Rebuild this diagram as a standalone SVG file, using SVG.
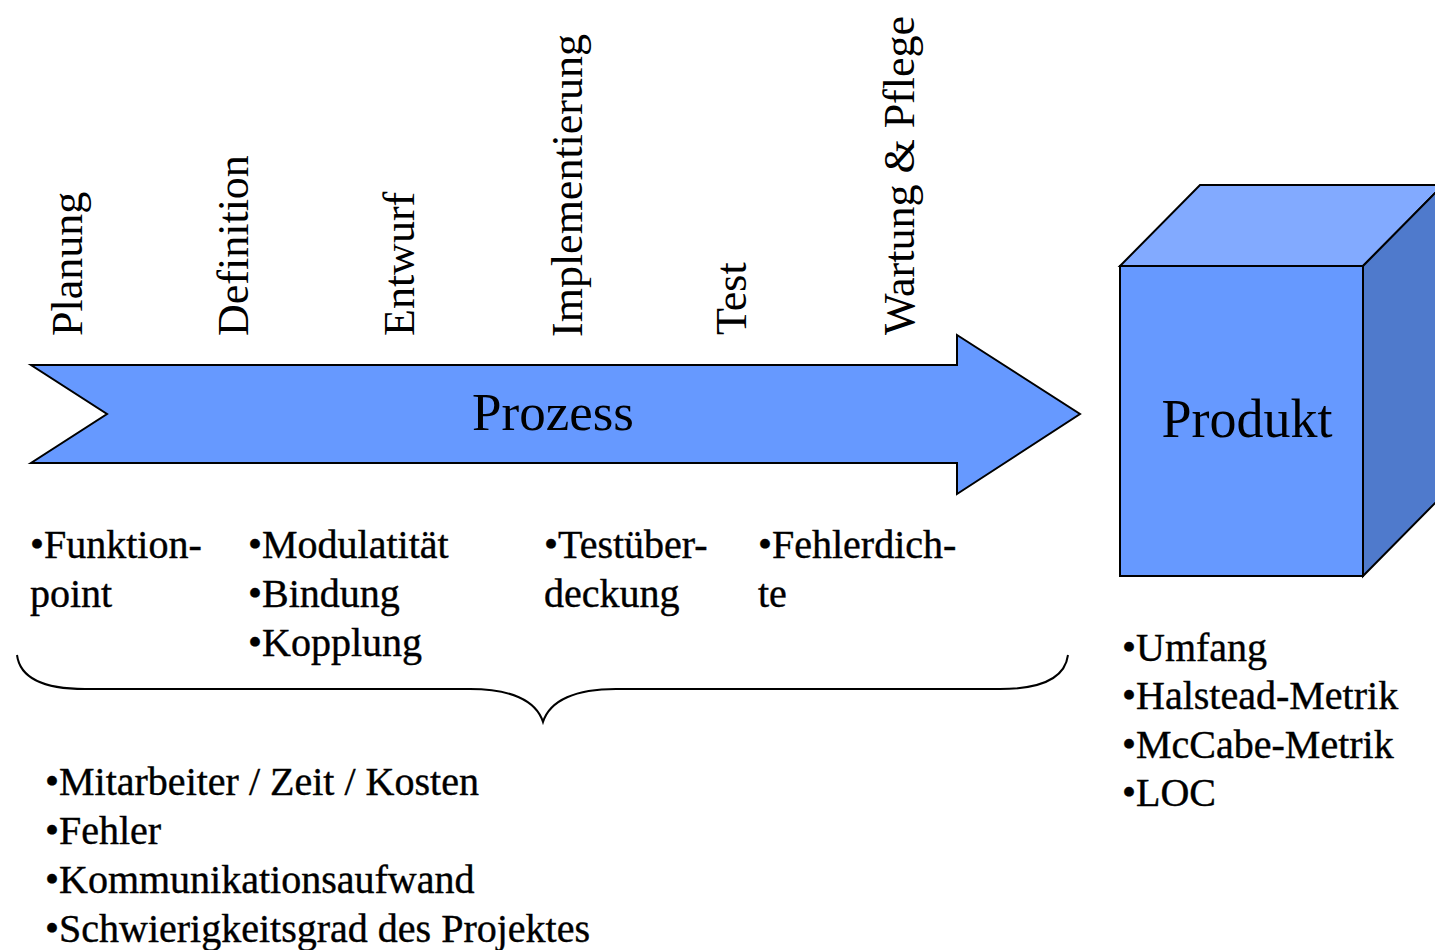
<svg xmlns="http://www.w3.org/2000/svg" width="1435" height="950" viewBox="0 0 1435 950">
<style>
text{font-family:"Liberation Serif","Times New Roman",serif;fill:#000}
.ph{font-size:44px}
.li{font-size:40px;stroke:#000;stroke-width:0.4}
.big{font-size:53px;text-anchor:middle}
.sh{stroke:#000;stroke-width:2;stroke-linejoin:miter}
</style>
<rect width="1435" height="950" fill="#fff"/>
<g id="phases">
<text class="ph" transform="translate(82,336) rotate(-90)">Planung</text>
<text class="ph" transform="translate(248,336) rotate(-90)">Definition</text>
<text class="ph" transform="translate(414,336) rotate(-90)">Entwurf</text>
<text class="ph" transform="translate(582,337) rotate(-90)">Implementierung</text>
<text class="ph" transform="translate(746,335) rotate(-90)">Test</text>
<text class="ph" transform="translate(914,335) rotate(-90)">Wartung &amp; Pflege</text>
</g>
<g id="prozess">
<polygon class="sh" fill="#6699FF" points="31,365 957,365 957,335 1080,414 957,494 957,463 31,463 107,414"/>
<text class="big" x="553" y="430">Prozess</text>
</g>
<g id="produkt">
<polygon class="sh" fill="#82AAFF" points="1120,266 1200,185 1443,185 1363,266"/>
<polygon class="sh" fill="#4F7ACC" points="1363,266 1443,185 1443,495 1363,576"/>
<rect class="sh" fill="#6699FF" x="1120" y="266" width="243" height="310"/>
<text class="big" x="1247" y="437" style="font-size:54px">Produkt</text>
</g>
<g id="process-metrics">
<text class="li" x="30" y="558">•Funktion-</text>
<text class="li" x="30" y="607">point</text>
<text class="li" x="248" y="558">•Modulatität</text>
<text class="li" x="248" y="607">•Bindung</text>
<text class="li" x="248" y="656">•Kopplung</text>
<text class="li" x="544" y="558">•Testüber-</text>
<text class="li" x="544" y="607">deckung</text>
<text class="li" x="758" y="558">•Fehlerdich-</text>
<text class="li" x="758" y="607">te</text>
</g>
<g id="connectors">
<path d="M17,655 C20,678 42,689 85,689 L470,689 C510,689 536,700 543,722 C550,700 576,689 616,689 L1000,689 C1043,689 1065,678 1068,655" fill="none" stroke="#000" stroke-width="2"/>
</g>
<g id="general-metrics">
<text class="li" x="45" y="795">•Mitarbeiter / Zeit / Kosten</text>
<text class="li" x="45" y="844">•Fehler</text>
<text class="li" x="45" y="893">•Kommunikationsaufwand</text>
<text class="li" x="45" y="942">•Schwierigkeitsgrad des Projektes</text>
</g>
<g id="product-metrics">
<text class="li" x="1122" y="661">•Umfang</text>
<text class="li" x="1122" y="709">•Halstead-Metrik</text>
<text class="li" x="1122" y="758">•McCabe-Metrik</text>
<text class="li" x="1122" y="806">•LOC</text>
</g>
</svg>
